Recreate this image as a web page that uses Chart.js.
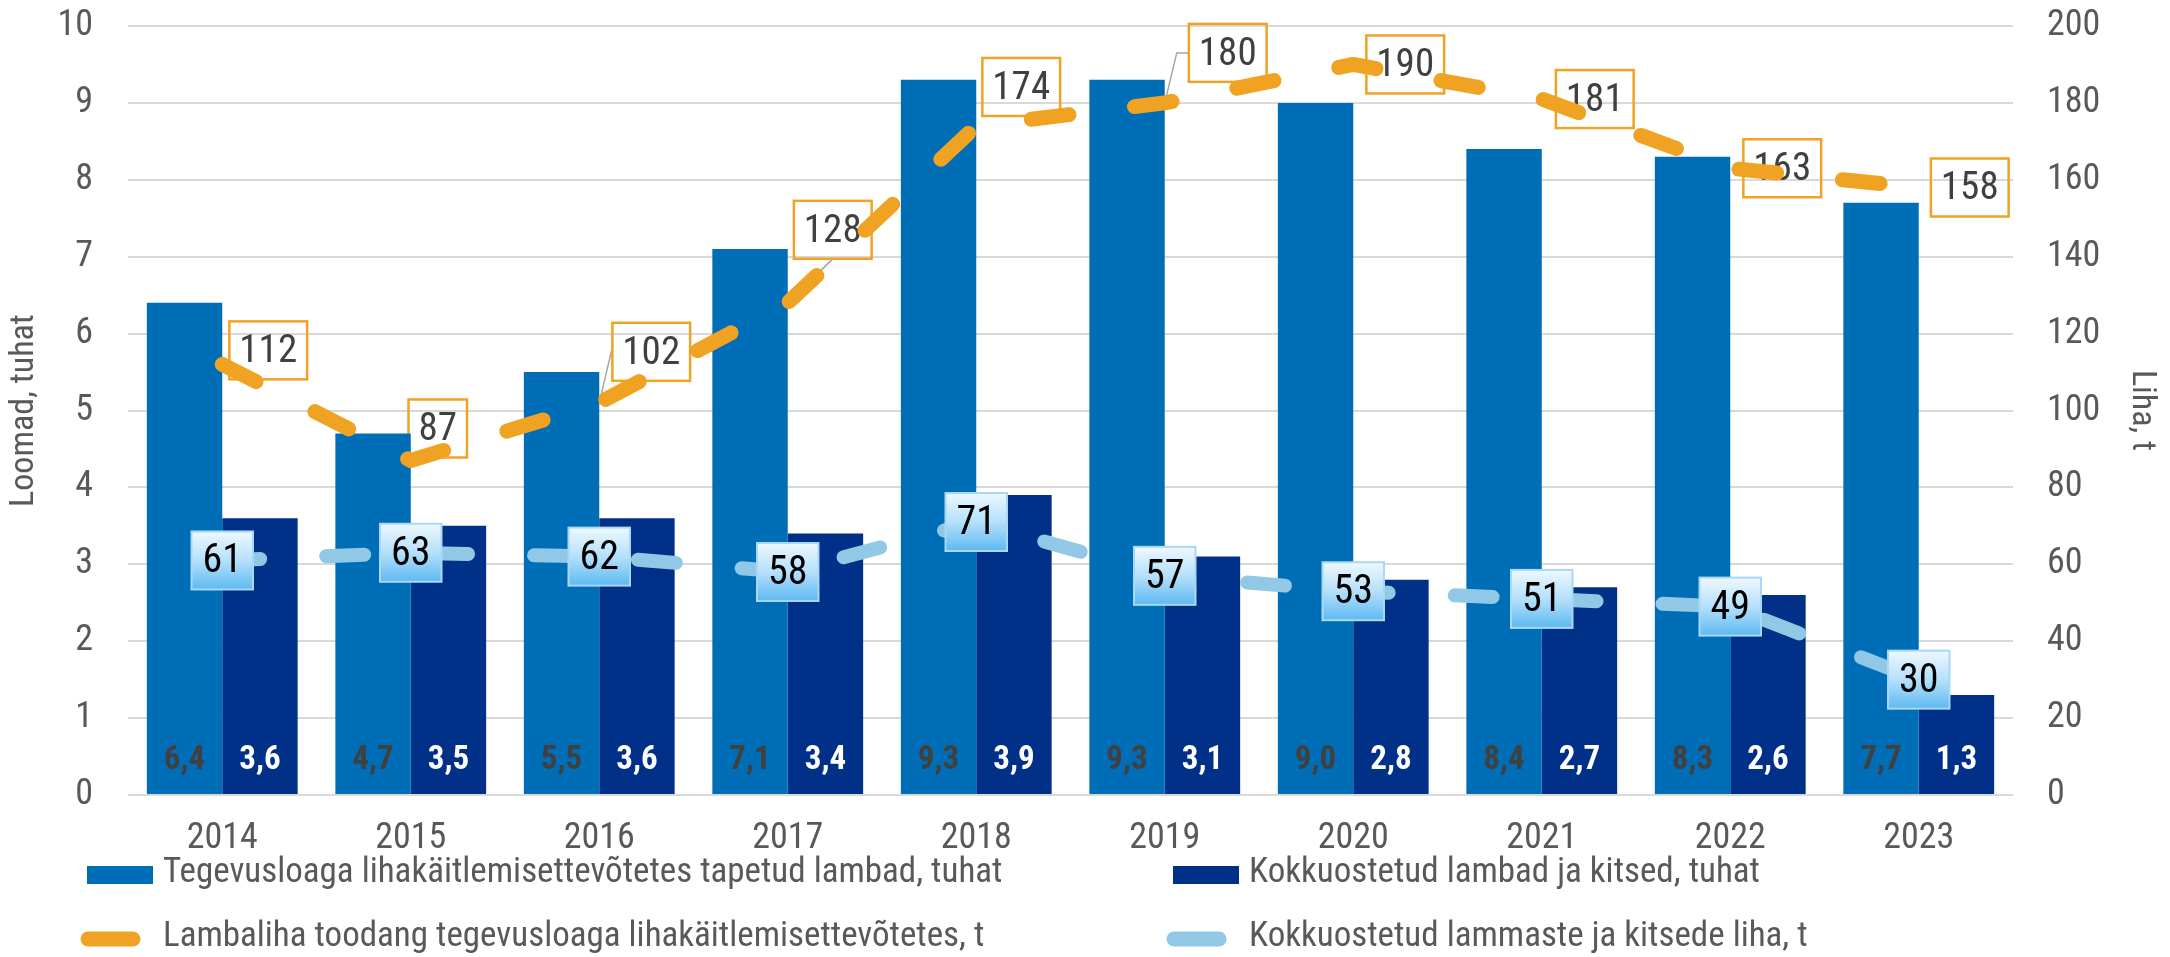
<!DOCTYPE html>
<html>
<head>
<meta charset="utf-8">
<script src="https://cdn.jsdelivr.net/npm/chart.js@4.4.1/dist/chart.umd.min.js"></script>
<style>
  html, body { margin: 0; padding: 0; background: #fff; }
  #wrap { width: 2170px; height: 957px; }
</style>
</head>
<body>
<div id="wrap"><canvas id="grafico" width="2170" height="957"></canvas></div>
<script>
// andmed
const aastad = ["2014", "2015", "2016", "2017", "2018", "2019", "2020", "2021", "2022", "2023"];
const tapetudLambad = [6.4, 4.7, 5.5, 7.1, 9.3, 9.3, 9.0, 8.4, 8.3, 7.7];
const kokkuostetud = [3.6, 3.5, 3.6, 3.4, 3.9, 3.1, 2.8, 2.7, 2.6, 1.3];
const lambaliha = [112, 87, 102, 128, 174, 180, 190, 181, 163, 158];
const kokkuostetudLiha = [61, 63, 62, 58, 71, 57, 53, 51, 49, 30];
const vasakTelg = [0, 1, 2, 3, 4, 5, 6, 7, 8, 9, 10];
const paremTelg = [0, 20, 40, 60, 80, 100, 120, 140, 160, 180, 200];
const nimed = [
    "Tegevusloaga lihakäitlemisettevõtetes tapetud lambad, tuhat",
    "Kokkuostetud lambad ja kitsed, tuhat",
    "Lambaliha toodang tegevusloaga lihakäitlemisettevõtetes, t",
    "Kokkuostetud lammaste ja kitsede liha, t"
];

const SININE = "#006EB6";
const TUMESININE = "#003087";
const ORANZ = "#F0A323";
const HELESININE = "#90C8E6";
const HALL = "#595959";

// leia kitsas font kui on olemas
function onFont(nimi) {
    const c = document.createElement("canvas").getContext("2d");
    const s = "abcdefghijklmnopqrstuvwxyz0123456789";
    c.font = "40px monospace";
    const a = c.measureText(s).width;
    c.font = '40px "' + nimi + '", monospace';
    return c.measureText(s).width !== a;
}
let FONT = "Roboto";
for (const f of ["Roboto Condensed", "Liberation Sans Narrow", "Arial Narrow"]) {
    if (onFont(f)) { FONT = f; break; }
}

// orange siltide nihe punktist (px)
const oranzNihe = [[46, -14], [27, -32], [52, -51], [45, -73], [45, -39], [63, -50], [52, 0], [53, 0], [52, 0], [51, 0]];
const juhtjoon = [null, null, "nurk", "kald", null, "nurk", null, null, null, null];

const siltPlugin = {
    id: "sildid",
    beforeDatasetsDraw(chart) {
        const ctx = chart.ctx;
        const meta = chart.getDatasetMeta(2);
        ctx.save();
        ctx.font = "39px '" + FONT + "'";
        ctx.textAlign = "center";
        ctx.textBaseline = "middle";
        meta.data.forEach((p, i) => {
            const txt = String(lambaliha[i]);
            const w = ctx.measureText(txt).width + 20;
            const h = 58;
            const cx = p.x + oranzNihe[i][0], cy = p.y + oranzNihe[i][1];
            const l = cx - w / 2, t = cy - h / 2;
            if (juhtjoon[i]) {
                ctx.strokeStyle = "#A6A6A6";
                ctx.lineWidth = 1.5;
                ctx.beginPath();
                ctx.moveTo(p.x, p.y);
                if (juhtjoon[i] === "nurk") {
                    ctx.lineTo(p.x + 12, cy);
                    ctx.lineTo(l, cy);
                } else {
                    ctx.lineTo(cx, t + h);
                }
                ctx.stroke();
            }
            ctx.strokeStyle = ORANZ;
            ctx.lineWidth = 2.5;
            ctx.strokeRect(l, t, w, h);
            ctx.fillStyle = "#404040";
            ctx.fillText(txt, cx, cy + 2);
        });
        ctx.restore();
    },
    afterDatasetsDraw(chart) {
        const ctx = chart.ctx;
        ctx.save();
        ctx.textAlign = "center";
        ctx.textBaseline = "middle";
        // tulpade väärtused
        ctx.font = "bold 33px '" + FONT + "'";
        [[0, tapetudLambad, "#404040"], [1, kokkuostetud, "#ffffff"]].forEach(([di, arr, col]) => {
            chart.getDatasetMeta(di).data.forEach((b, i) => {
                ctx.fillStyle = col;
                ctx.fillText(arr[i].toFixed(1).replace(".", ","), b.x, b.base - 33);
            });
        });
        // helesinised sildid
        ctx.font = "40px '" + FONT + "'";
        chart.getDatasetMeta(3).data.forEach((p, i) => {
            const txt = String(kokkuostetudLiha[i]);
            const w = Math.max(ctx.measureText(txt).width + 22, 58);
            const h = 58;
            const l = p.x - w / 2, t = p.y - h / 2;
            const g = ctx.createLinearGradient(0, t, 0, t + h);
            g.addColorStop(0, "#EEF8FF");
            g.addColorStop(0.5, "#B5E0FB");
            g.addColorStop(1, "#5DB9F2");
            ctx.fillStyle = g;
            ctx.fillRect(l, t, w, h);
            ctx.strokeStyle = "#A9D8F4";
            ctx.lineWidth = 2;
            ctx.strokeRect(l, t, w, h);
            ctx.fillStyle = "#000000";
            ctx.fillText(txt, p.x, p.y + 2);
        });
        ctx.restore();
    },
    afterDraw(chart) {
        // legend
        const ctx = chart.ctx;
        ctx.save();
        ctx.font = "35px '" + FONT + "'";
        ctx.textBaseline = "middle";
        ctx.textAlign = "left";
        const kohad = [[87, 875], [1173, 875], [87, 939], [1173, 939]];
        const tyyp = ["tulp", "tulp", "joon", "joon"];
        const varvid = [SININE, TUMESININE, ORANZ, HELESININE];
        kohad.forEach(([x, y], i) => {
            if (tyyp[i] === "tulp") {
                ctx.fillStyle = varvid[i];
                ctx.fillRect(x, y - 9, 66, 18);
            } else {
                ctx.strokeStyle = varvid[i];
                ctx.lineWidth = 15;
                ctx.lineCap = "round";
                ctx.beginPath();
                ctx.moveTo(x + 1, y);
                ctx.lineTo(x + 46, y);
                ctx.stroke();
            }
            ctx.fillStyle = HALL;
            ctx.fillText(nimed[i], x + 76, y - 2);
        });
        ctx.restore();
    }
};

Chart.defaults.font.family = FONT;
Chart.defaults.color = HALL;

function polsterNulli(s) { s.paddingTop = 0; s.paddingBottom = 0; }

const ctx = document.getElementById("grafico").getContext("2d");
new Chart(ctx, {
    type: "bar",
    data: {
        labels: aastad,
        datasets: [
            { label: nimed[0], data: tapetudLambad, backgroundColor: SININE, yAxisID: "y", order: 2,
              categoryPercentage: 0.8, barPercentage: 1.0 },
            { label: nimed[1], data: kokkuostetud, backgroundColor: TUMESININE, yAxisID: "y", order: 2,
              categoryPercentage: 0.8, barPercentage: 1.0 },
            { type: "line", label: nimed[2], data: lambaliha, yAxisID: "y1", order: 1,
              borderColor: ORANZ, borderWidth: 15, borderDash: [38, 66], borderCapStyle: "round",
              borderJoinStyle: "round", pointRadius: 0, tension: 0, fill: false },
            { type: "line", label: nimed[3], data: kokkuostetudLiha, yAxisID: "y1", order: 1,
              borderColor: HELESININE, borderWidth: 14, borderDash: [38, 66], borderCapStyle: "round",
              borderJoinStyle: "round", pointRadius: 0, tension: 0, fill: false }
        ]
    },
    options: {
        responsive: false,
        devicePixelRatio: 1,
        animation: false,
        layout: { padding: { top: 26, left: 0, right: 0, bottom: 0 } },
        plugins: { legend: { display: false }, tooltip: { enabled: false } },
        scales: {
            x: {
                grid: { display: false, drawTicks: false },
                border: { display: false },
                ticks: { font: { size: 36 }, color: HALL, padding: 22 },
                afterFit(s) { s.height = 162; s.paddingLeft = 0; s.paddingRight = 0; }
            },
            y: {
                position: "left",
                min: 0, max: 10,
                afterBuildTicks(s) { s.ticks = vasakTelg.map(v => ({ value: v })); },
                grid: { color: "#D9D9D9", lineWidth: 2, drawTicks: false },
                border: { display: false },
                ticks: { font: { size: 36 }, color: HALL, padding: 35 },
                title: { display: true, text: "Loomad, tuhat", font: { size: 34 }, color: HALL, padding: { top: 4, bottom: 0 } },
                afterFit(s) { s.width = 128; polsterNulli(s); }
            },
            y1: {
                position: "right",
                min: 0, max: 200,
                afterBuildTicks(s) { s.ticks = paremTelg.map(v => ({ value: v })); },
                grid: { display: false, drawTicks: false },
                border: { display: false },
                ticks: { font: { size: 36 }, color: HALL, padding: 34 },
                title: { display: true, text: "Liha, t", font: { size: 34 }, color: HALL, padding: { top: 8, bottom: 0 } },
                afterFit(s) { s.width = 157; polsterNulli(s); }
            }
        }
    },
    plugins: [siltPlugin]
});
</script>
</body>
</html>
